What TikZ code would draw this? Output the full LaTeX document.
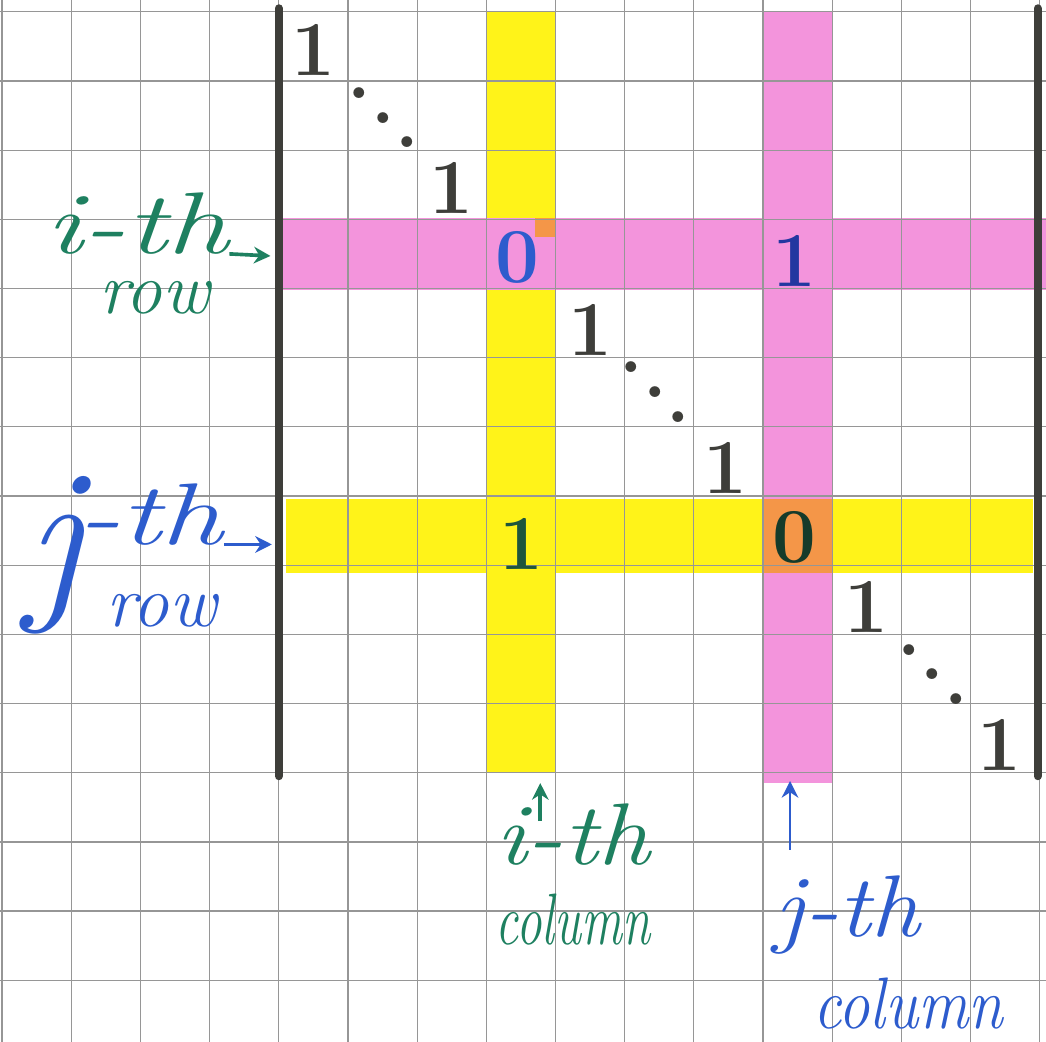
\documentclass[tikz,border=0pt]{standalone}
\usepackage{tikz}
\usetikzlibrary{arrows.meta}

\definecolor{gridgray}{RGB}{150,150,150}
\definecolor{markpink}{RGB}{243,148,220}
\definecolor{markyellow}{RGB}{255,243,25}
\definecolor{markorange}{RGB}{244,150,72}
\definecolor{inkgray}{RGB}{62,62,58}
\definecolor{inkgreen}{RGB}{30,128,96}
\definecolor{inkblue}{RGB}{45,92,205}
\definecolor{inknavy}{RGB}{35,55,160}
\definecolor{inkdkgreen}{RGB}{30,85,60}

% diagonal dots with steps that grow with the font
\newcommand{\diagdots}{\raisebox{0.66em}{.}\raisebox{0.33em}{.}.}

\begin{document}
\begin{tikzpicture}[
  entry/.style={font=\fontsize{32}{34}\selectfont\bfseries, text=inkgray, inner sep=0pt},
  dotsym/.style={font=\fontsize{31}{31}\selectfont\bfseries, text=inkgray, inner sep=0pt},
  handtxt/.style={font=\fontsize{30}{32}\selectfont\itshape, inner sep=0pt, anchor=base},
  handbig/.style={font=\fontsize{36}{38}\selectfont\itshape, inner sep=0pt, anchor=base},
  bar/.style={inkgray, line width=3.3pt, line cap=round},
  pointer/.style={-{Stealth[length=2.4mm, width=2.4mm]}, line width=1.5pt}
]
\useasboundingbox (-0.03,-14.88) rectangle (15.09,0.17);
\clip (-0.03,-14.88) rectangle (15.09,0.17);

% highlighter strokes
\fill[markyellow] (7,0) rectangle (8,-11);
\fill[markpink] (11,0) rectangle (12,-11.15);
\fill[markpink] (4.05,-2.98) rectangle (15.2,-4.02);
\fill[markorange] (7.7,-2.98) rectangle (8,-3.25);
\fill[markyellow] (4.1,-7.05) rectangle (14.9,-8.12);
\fill[markorange] (11,-7.05) rectangle (12,-8.12);

% squared paper
\draw[gridgray, line width=0.5pt] (-1,-16) grid (16,0.9);

% matrix brackets
\draw[bar] (4,0.05) -- (4,-11.05);
\draw[bar] (14.97,0.05) -- (14.97,-11.05);

% entries
\node[entry] (a11) at (4.5,-0.55) {1};
\node[dotsym] (dd1) at (5.51,-1.53) {\diagdots};
\node[entry] (a33) at (6.5,-2.55) {1};
\node[entry, text=inkblue] (aii) at (7.45,-3.55) {0};
\node[entry, text=inknavy] (aij) at (11.45,-3.6) {1};
\node[entry] (a55) at (8.5,-4.6) {1};
\node[dotsym] (dd2) at (9.44,-5.5) {\diagdots};
\node[entry] (a77) at (10.45,-6.6) {1};
\node[entry, text=inkdkgreen] (aji) at (7.5,-7.7) {1};
\node[entry, text=inkdkgreen!70!black] (ajj) at (11.45,-7.6) {0};
\node[entry] (a99) at (12.5,-8.6) {1};
\node[dotsym] (dd3) at (13.45,-9.58) {\diagdots};
\node[entry] (ann) at (14.42,-10.6) {1};

% row labels
\node[handbig, text=inkgreen, xscale=1.42, transform shape] (ith) at (1.95,-3.5) {i-th};
\node[handtxt, text=inkgreen] (irow) at (2.2,-4.36) {row};
\coordinate (irowtip) at (3.88,-3.53);
\draw[pointer, inkgreen] (ith.base east) -- (irowtip);

\node[font=\fontsize{76}{78}\selectfont\itshape, text=inkblue, inner sep=0pt, anchor=base] (jbig) at (0.75,-8.45) {j};
\node[handbig, text=inkblue, xscale=1.42, transform shape] (jth) at (2.14,-7.7) {-th};
\node[handtxt, text=inkblue] (jrow) at (2.3,-8.89) {row};
\coordinate (jrowtip) at (3.9,-7.7);
\draw[pointer, inkblue] (jth.base east) -- (jrowtip);

% column labels
\node[handbig, text=inkgreen, xscale=1.2, transform shape] (icolth) at (8.25,-12.33) {i-th};
\node[handtxt, text=inkgreen, xscale=0.7, transform shape] (icol) at (8.25,-13.48) {column};
\coordinate (icolfoot) at (7.78,-11.7);
\coordinate (icoltip) at (7.78,-11.15);
\draw[pointer, inkgreen] (icolfoot) -- (icoltip);

\node[handbig, text=inkblue, xscale=1.13, transform shape] (jcolth) at (12.22,-13.37) {j-th};
\node[handtxt, text=inkblue, xscale=0.86, transform shape] (jcol) at (13.1,-14.7) {column};
\coordinate (jcolfoot) at (11.39,-12.11);
\coordinate (jcoltip) at (11.39,-11.12);
\draw[pointer, inkblue, line width=1.1pt] (jcolfoot) -- (jcoltip);
\end{tikzpicture}
\end{document}
